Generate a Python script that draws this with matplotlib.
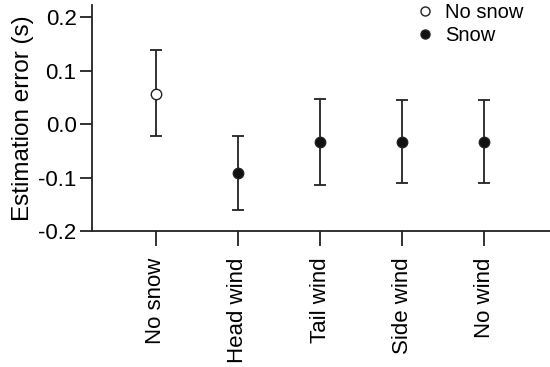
import matplotlib
matplotlib.use("Agg")
import matplotlib.pyplot as plt
from matplotlib.lines import Line2D

categories = ["No snow", "Head wind", "Tail wind", "Side wind", "No wind"]
means = [0.057, -0.092, -0.034, -0.034, -0.033]
upper = [0.138, -0.023, 0.047, 0.044, 0.044]
lower = [-0.022, -0.160, -0.114, -0.110, -0.110]
snow = [False, True, True, True, True]
yticks = [-0.2, -0.1, 0.0, 0.1, 0.2]
ytick_labels = ["-0.2", "-0.1", "0.0", "0.1", "0.2"]

plt.rcParams['font.family'] = ['Liberation Sans', 'DejaVu Sans']

fig = plt.figure(figsize=(5.5, 3.67), dpi=100)
ax = fig.add_axes([0.167, 0.3706, 0.833, 0.615])

for i, (m, u, l, s) in enumerate(zip(means, upper, lower, snow)):
    ax.errorbar([i], [m], yerr=[[m - l], [u - m]], fmt='none', ecolor='#222222',
                elinewidth=1.3, capsize=4.5, capthick=1.3, zorder=2)
    ax.plot([i], [m], marker='o', markersize=7.5, markeredgewidth=1.0,
            markeredgecolor='#222222', markerfacecolor='#111111' if s else 'white',
            linestyle='none', zorder=3)

ax.set_xlim(-0.78, 4.8)
ax.set_ylim(-0.2, 0.222)
ax.set_xticks(range(len(categories)))
ax.set_xticklabels(categories, rotation=90, fontsize=16)
ax.set_yticks(yticks)
ax.set_yticklabels(ytick_labels, fontsize=16)
ax.set_ylabel("Estimation error (s)", fontsize=17.5, labelpad=3)

for side in ['top', 'right']:
    ax.spines[side].set_visible(False)
for side in ['left', 'bottom']:
    ax.spines[side].set_linewidth(1.3)
    ax.spines[side].set_color('#222222')
ax.tick_params(axis='y', length=9, width=1.3, color='#222222', pad=2)
ax.tick_params(axis='x', length=11, width=1.3, color='#222222', pad=8)

handles = [
    Line2D([], [], marker='o', linestyle='none', markersize=6.5, markerfacecolor='white',
           markeredgecolor='#222222', markeredgewidth=1.0, label='No snow'),
    Line2D([], [], marker='o', linestyle='none', markersize=6.5, markerfacecolor='#111111',
           markeredgecolor='#222222', markeredgewidth=1.0, label='Snow'),
]
ax.legend(handles=handles, loc='upper right', bbox_to_anchor=(0.969, 1.065), frameon=False,
          fontsize=14.5, handletextpad=0.5, labelspacing=0.2, handlelength=1.0,
          borderaxespad=0.2)

fig.savefig("out.png", dpi=100)
